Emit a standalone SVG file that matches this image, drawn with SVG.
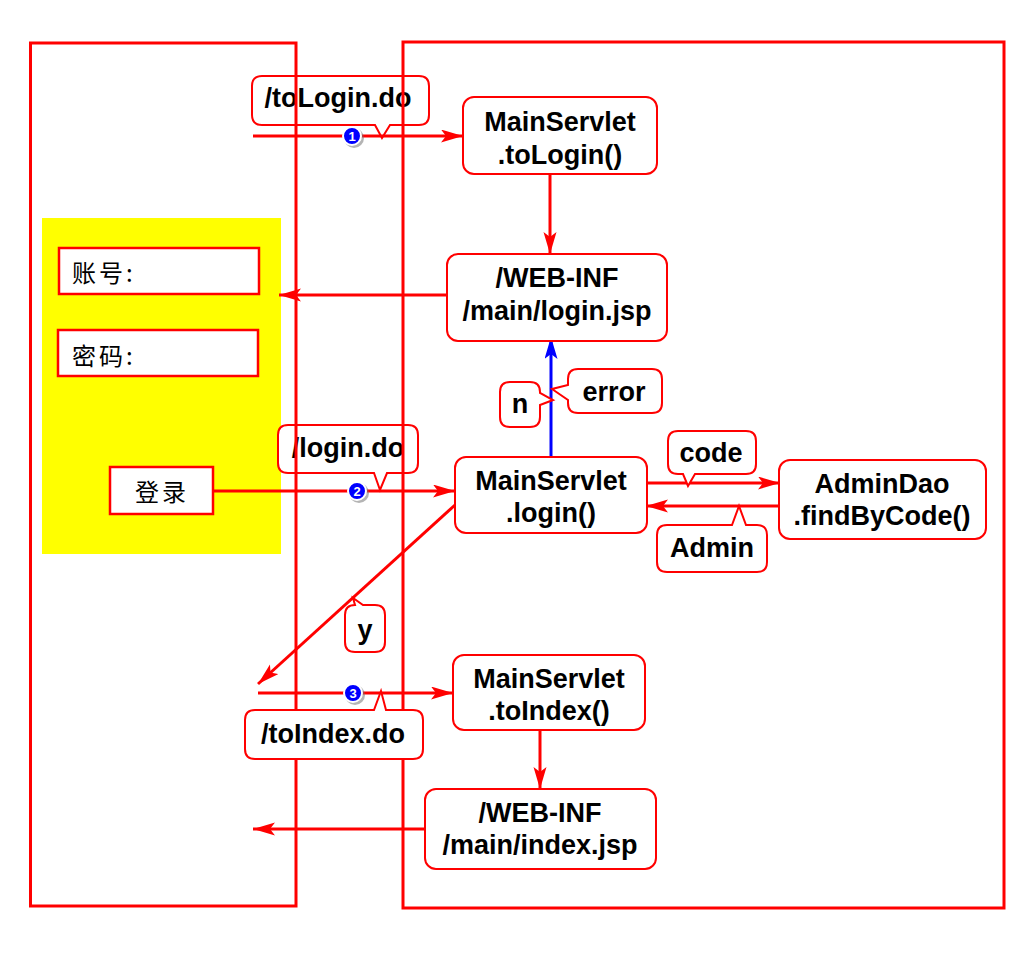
<svg xmlns="http://www.w3.org/2000/svg" width="1024" height="955" viewBox="0 0 1024 955">
<style>
.frame{fill:none;stroke:#ff0000;stroke-width:3}
.box{fill:#ffffff;stroke:#ff0000;stroke-width:2}
.field{fill:#ffffff;stroke:#ff0000;stroke-width:2.5}
.call{fill:#ffffff;stroke:#ff0000;stroke-width:2}
.t{font-family:"Liberation Sans",Arial,sans-serif;font-weight:bold;font-size:27px;fill:#000;text-anchor:middle}
.cn{font-family:"Noto Sans CJK SC",sans-serif;font-size:24px;fill:#000;letter-spacing:3px}
.ln{fill:none;stroke:#ff0000;stroke-width:3;marker-end:url(#ah)}
.lb{fill:none;stroke:#0000ff;stroke-width:3;marker-end:url(#ahb)}
.num{font-family:"Liberation Sans",Arial,sans-serif;font-weight:bold;font-size:13px;fill:#fff;text-anchor:middle}
.dot{fill:#0000ff;stroke:#ffffff;stroke-width:2}
.shadow{fill:#777;opacity:0.55}
</style>
<defs>
<marker id="ah" markerUnits="userSpaceOnUse" markerWidth="24" markerHeight="14" refX="22" refY="6.5" orient="auto">
<path d="M0,0 L22,6.5 L0,13 L5,6.5 Z" fill="#ff0000"/>
</marker>
<marker id="ahb" markerUnits="userSpaceOnUse" markerWidth="24" markerHeight="14" refX="22" refY="6.5" orient="auto">
<path d="M0,0 L22,6.5 L0,13 L5,6.5 Z" fill="#0000ff"/>
</marker>
</defs>
<rect width="1024" height="955" fill="#ffffff"/>
<rect x="42" y="218" width="239" height="336" fill="#ffff00"/>
<g id="c-tologin">
<path class="call" d="M262,76 H419 Q429,76 429,86 V115 Q429,125 419,125 H390 L382,138 L375,125 H262 Q252,125 252,115 V86 Q252,76 262,76 Z"/>
<text class="t" x="338" y="107">/toLogin.do</text>
</g>
<g id="c-login">
<path class="call" d="M288,425 H408 Q418,425 418,435 V463 Q418,473 408,473 H387 L380,490 L374,473 H288 Q278,473 278,463 V435 Q278,425 288,425 Z"/>
<text class="t" x="348" y="457">/login.do</text>
</g>
<g id="frames">
<rect class="frame" x="30.5" y="43" width="265.5" height="863"/>
<rect class="frame" x="403" y="42" width="601" height="866"/>
</g>
<g id="form-account"><rect class="field" x="59" y="248" width="200" height="46"/><text class="cn" x="72" y="282">账号:</text></g>
<g id="form-password"><rect class="field" x="58" y="330" width="200" height="46"/><text class="cn" x="72" y="365">密码:</text></g>
<g id="form-submit"><rect class="field" x="110" y="467" width="103" height="47"/><text class="cn" x="135" y="501">登录</text></g>
<g id="connectors">
<line class="ln" x1="253" y1="136" x2="463" y2="136"/>
<line class="ln" x1="550" y1="174" x2="550" y2="254"/>
<line class="ln" x1="447" y1="295" x2="279" y2="295"/>
<line class="ln" x1="213" y1="491" x2="455" y2="491"/>
<line class="lb" x1="551" y1="456" x2="551" y2="337"/>
<line class="ln" x1="647" y1="483" x2="780" y2="483"/>
<line class="ln" x1="780" y1="506" x2="646" y2="506"/>
<line class="ln" x1="455" y1="505" x2="258" y2="684"/>
<line class="ln" x1="258" y1="693" x2="453" y2="693"/>
<line class="ln" x1="540" y1="730" x2="540" y2="789"/>
<line class="ln" x1="425" y1="829" x2="253" y2="829"/>
</g>
<g id="n-tologin"><rect class="box" x="463" y="97" width="194" height="77" rx="11"/><text class="t" x="560" y="131">MainServlet</text><text class="t" x="560" y="164">.toLogin()</text></g>
<g id="n-loginjsp"><rect class="box" x="447" y="254" width="220" height="87" rx="11"/><text class="t" x="557" y="287">/WEB-INF</text><text class="t" x="557" y="320">/main/login.jsp</text></g>
<g id="n-login"><rect class="box" x="455" y="457" width="192" height="76" rx="11"/><text class="t" x="551" y="490">MainServlet</text><text class="t" x="551" y="522">.login()</text></g>
<g id="n-dao"><rect class="box" x="779" y="460" width="207" height="79" rx="11"/><text class="t" x="882" y="493">AdminDao</text><text class="t" x="882" y="525">.findByCode()</text></g>
<g id="n-toindex"><rect class="box" x="453" y="655" width="192" height="75" rx="11"/><text class="t" x="549" y="688">MainServlet</text><text class="t" x="549" y="720">.toIndex()</text></g>
<g id="n-indexjsp"><rect class="box" x="425" y="789" width="231" height="80" rx="11"/><text class="t" x="540" y="822">/WEB-INF</text><text class="t" x="540" y="854">/main/index.jsp</text></g>
<g id="c-code">
<path class="call" d="M678,431 H746 Q756,431 756,441 V464 Q756,474 746,474 H695 L688,486 L683,474 H678 Q668,474 668,464 V441 Q668,431 678,431 Z"/>
<text class="t" x="711" y="462">code</text>
</g>
<g id="c-admin">
<path class="call" d="M667,525 H732 L739,506 L746,525 H757 Q767,525 767,535 V562 Q767,572 757,572 H667 Q657,572 657,562 V535 Q657,525 667,525 Z"/>
<text class="t" x="712" y="557">Admin</text>
</g>
<g id="c-error">
<path class="call" d="M578,369 H652 Q662,369 662,379 V403 Q662,413 652,413 H578 Q568,413 568,403 V400 L552,389 L568,385 V379 Q568,369 578,369 Z"/>
<text class="t" x="614" y="401">error</text>
</g>
<g id="c-n">
<path class="call" d="M510,382 H530 Q540,382 540,392 V393 L553,400 L540,405 V417 Q540,427 530,427 H510 Q500,427 500,417 V392 Q500,382 510,382 Z"/>
<text class="t" x="520" y="413">n</text>
</g>
<g id="c-y">
<path class="call" d="M355,605 L353,598 L363,605 H375 Q385,605 385,615 V642 Q385,652 375,652 H355 Q345,652 345,642 V615 Q345,605 355,605 Z"/>
<text class="t" x="365" y="639">y</text>
</g>
<g id="c-toindex">
<path class="call" d="M255,710 H374 L381,691 L386,710 H413 Q423,710 423,720 V749 Q423,759 413,759 H255 Q245,759 245,749 V720 Q245,710 255,710 Z"/>
<text class="t" x="333" y="743">/toIndex.do</text>
</g>
<g id="step1"><circle class="shadow" cx="354" cy="138" r="10"/><circle class="dot" cx="352" cy="136" r="9"/><text class="num" x="352" y="141">1</text></g>
<g id="step2"><circle class="shadow" cx="359" cy="493" r="10"/><circle class="dot" cx="357" cy="491" r="9"/><text class="num" x="357" y="496">2</text></g>
<g id="step3"><circle class="shadow" cx="355" cy="695" r="10"/><circle class="dot" cx="353" cy="693" r="9"/><text class="num" x="353" y="698">3</text></g>
</svg>
